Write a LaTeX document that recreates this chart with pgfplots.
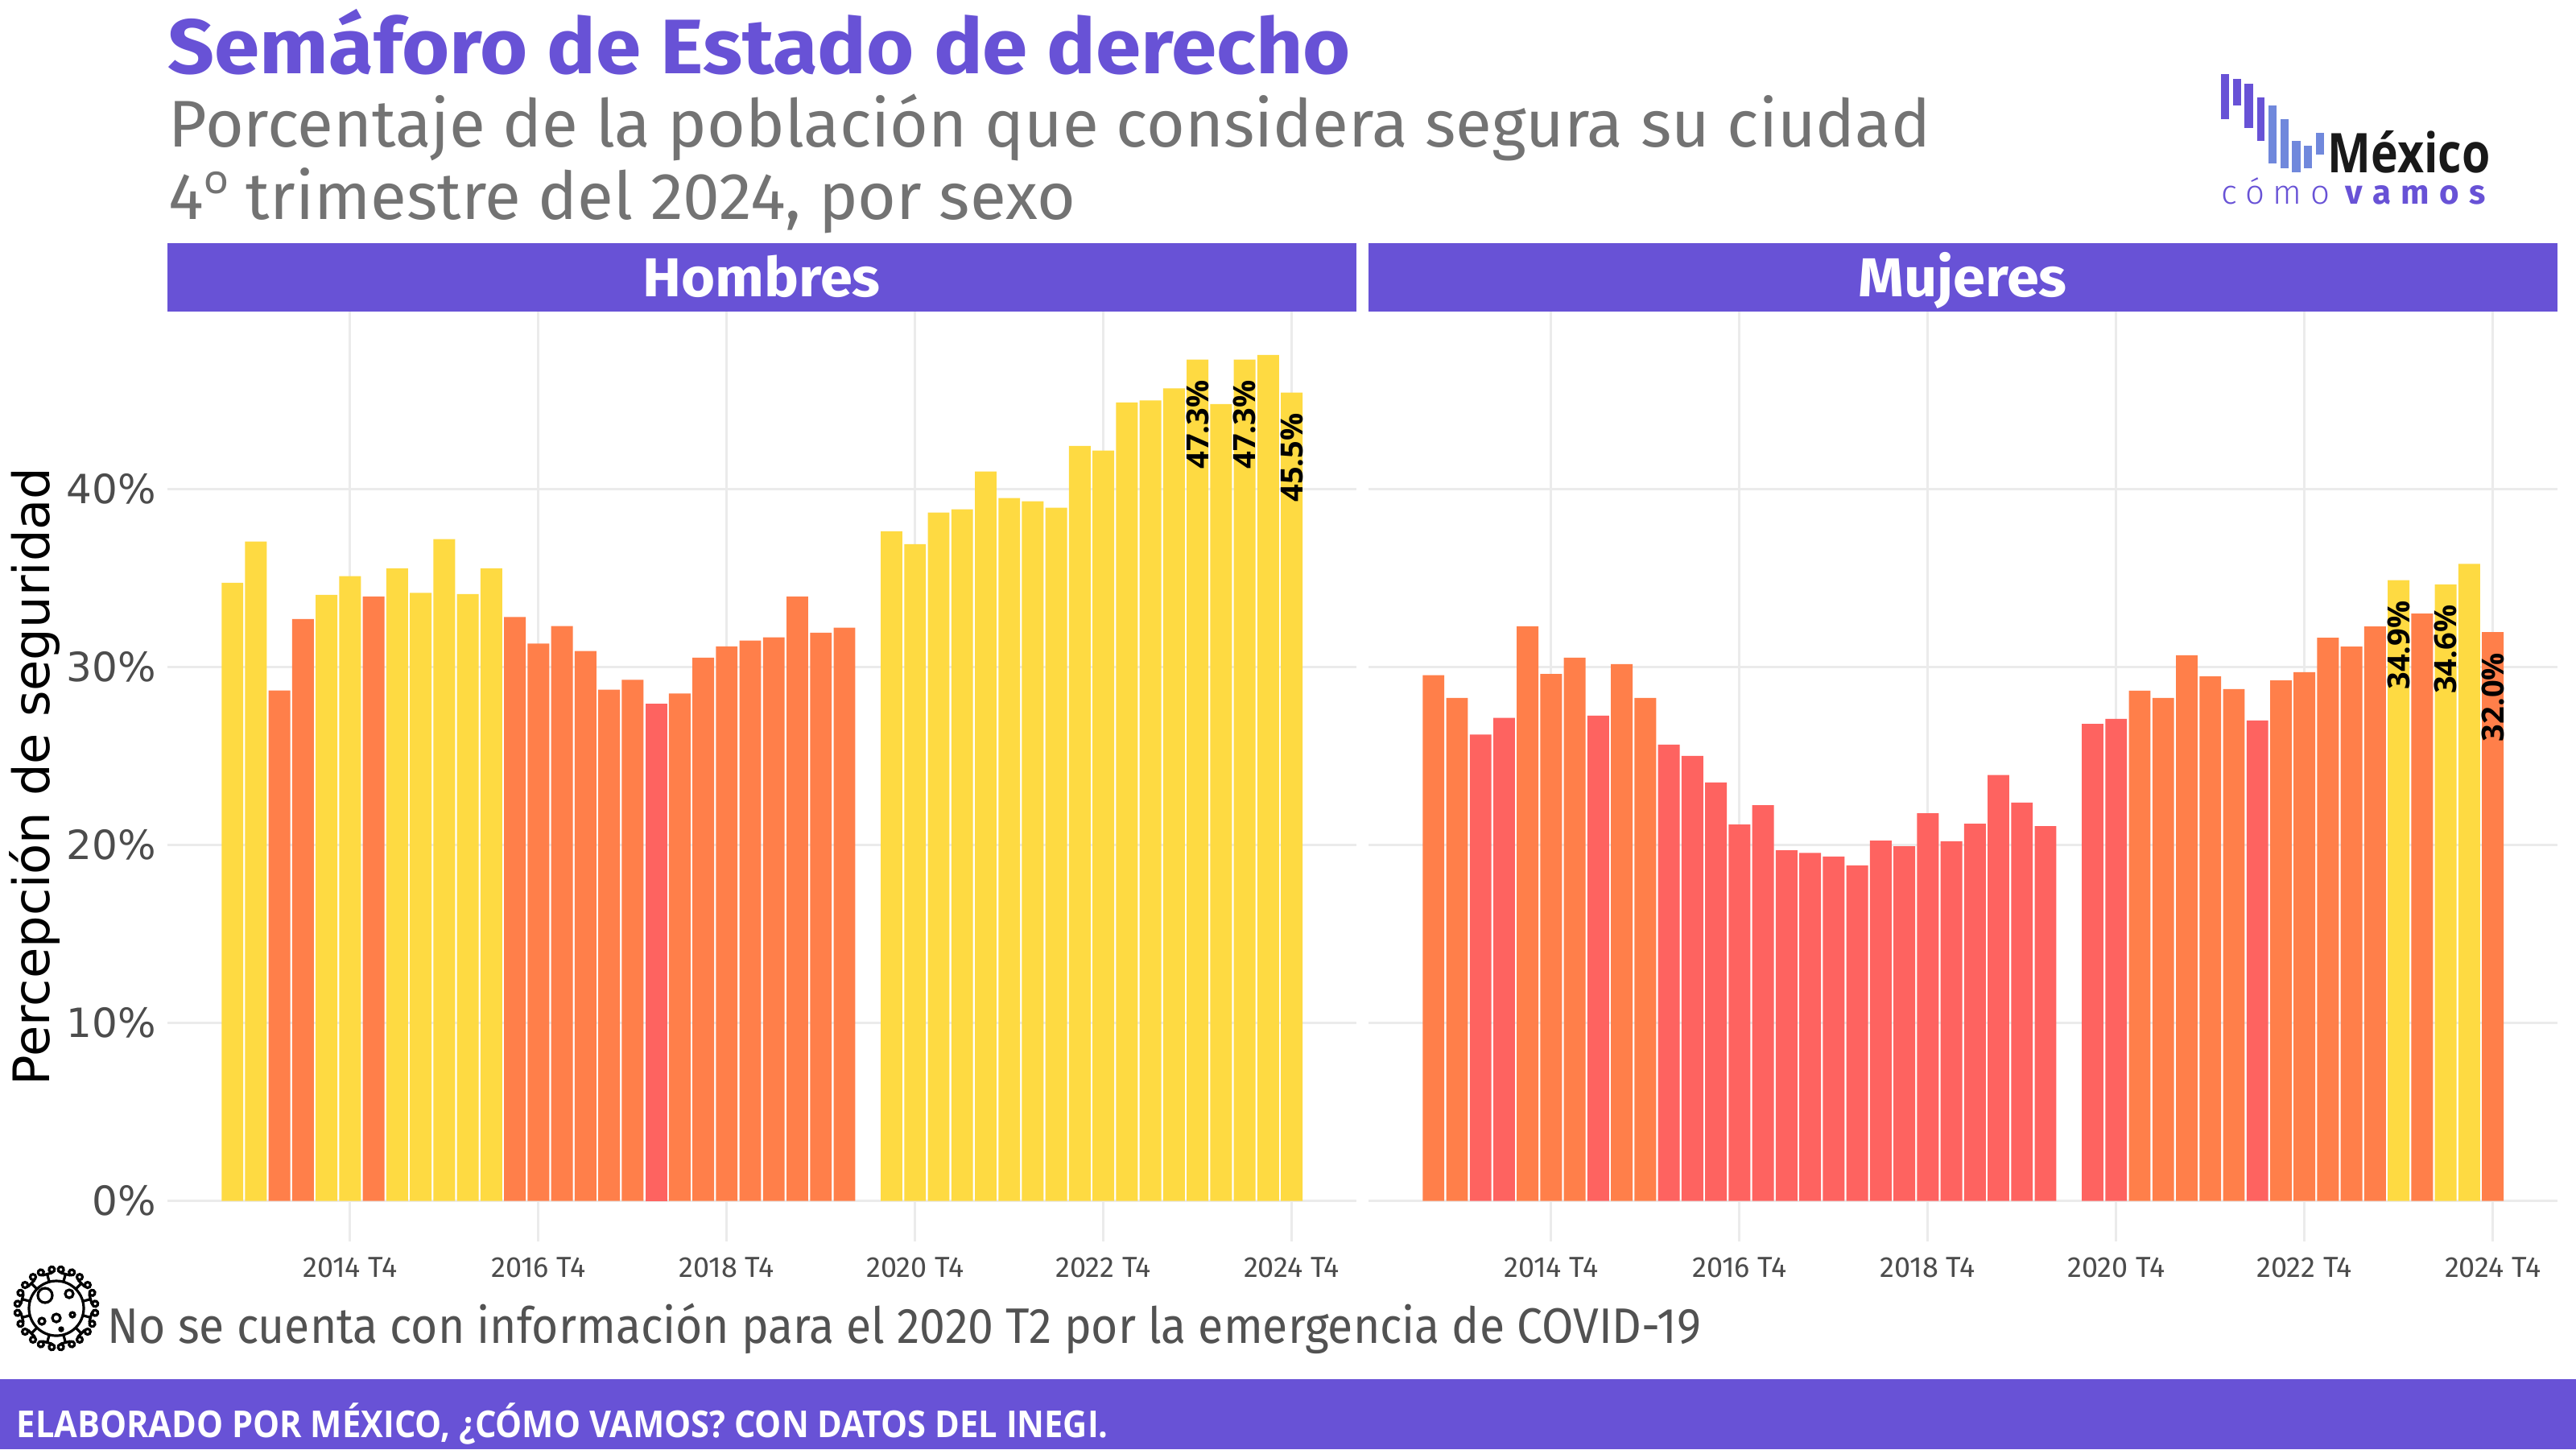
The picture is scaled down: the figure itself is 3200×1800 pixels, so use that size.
\documentclass[border=0pt]{standalone}
\usepackage{fontspec}
\usepackage{pgfplots}
\pgfplotsset{compat=1.18}
\setmainfont{Fira Sans}[UprightFont=* Light,BoldFont=* Bold]
\newfontfamily\titf{Fira Sans}[UprightFont=* Bold,FakeStretch=1.057]
\newfontfamily\subf{Fira Sans}
\newfontfamily\stripf{Fira Sans}[UprightFont=* Bold,FakeStretch=1.06]
\newfontfamily\dejavu{DejaVu Sans}
\newfontfamily\openr{Open Sans}
\newfontfamily\openb{Open Sans}[UprightFont=* Bold]
\newfontfamily\logof{Open Sans}[UprightFont=* Bold,FakeStretch=0.84]
\newfontfamily\openc{Open Sans}[UprightFont=* Bold,FakeStretch=0.905]
\newfontfamily\notef{Fira Sans}[FakeStretch=0.92]
\definecolor{morado}{HTML}{6852D6}
\definecolor{azul}{HTML}{7088DC}
\definecolor{amarillo}{HTML}{FEDA42}
\definecolor{naranja}{HTML}{FF7F4A}
\definecolor{rojo}{HTML}{FE6360}
\definecolor{rejilla}{HTML}{EBEBEB}

\pgfplotsset{panel/.style={
    scale only axis, width=369.25pt, height=276.25pt,
    anchor=south west,
    xmin=-2.76, xmax=47.75, ymin=0, ymax=50,
    xtick={5,13,21,29,37,45},
    xticklabels={2014 T4,2016 T4,2018 T4,2020 T4,2022 T4,2024 T4},
    ytick={0,10,20,30,40},
    grid=major,
    grid style={line width=0.75pt, draw=rejilla},
    axis line style={draw=none},
    xtick pos=bottom, ytick pos=left,
    xtick align=outside, ytick align=inside,
    major tick length=12.5pt,
    x tick style={line width=0.75pt, draw=rejilla},
    y tick style={draw=none},
    xticklabel style={font=\subf\fontsize{9}{9}\selectfont, text=black!70, yshift=-1.5pt},
    yticklabel style={font=\dejavu\fontsize{12.5}{12.5}\selectfont, text=black!70},
  },
  amar/.style={ybar, bar width=0.92, bar shift=0pt, fill=amarillo, draw=none},
  nara/.style={ybar, bar width=0.92, bar shift=0pt, fill=naranja, draw=none},
  roja/.style={ybar, bar width=0.92, bar shift=0pt, fill=rojo, draw=none},
  etiq/.style={draw=none, mark=none, nodes near coords, point meta=explicit symbolic,
    every node near coord/.style={yshift=-6.25pt, rotate=90, anchor=east, inner sep=0pt,
      font=\openb\fontsize{9.5}{9.5}\selectfont, text=black}},
}

\begin{document}
\begin{tikzpicture}[x=0.25pt,y=-0.25pt]
\path[use as bounding box,fill=white] (0,0) rectangle (3200,1800);

% titulos
\node[anchor=base west,inner sep=0pt,text=morado] at (208,91) {\titf\fontsize{24}{24}\selectfont Semáforo de Estado de derecho};
\node[anchor=base west,inner sep=0pt,text=black!55] at (209,182) {\subf\fontsize{20.5}{20.5}\selectfont Porcentaje de la población que considera segura su ciudad};
\node[anchor=base west,inner sep=0pt,text=black!55] at (209,272) {\subf\fontsize{20.5}{20.5}\selectfont 4{\openr º} trimestre del 2024, por sexo};

% franjas de cada panel
\fill[morado] (208,302) rectangle (1685,387);
\fill[morado] (1700,302) rectangle (3177,387);
\node[text=white,anchor=base,inner sep=0pt] at (946,368) {\stripf\fontsize{17}{17}\selectfont Hombres};
\node[text=white,anchor=base,inner sep=0pt] at (2438,368) {\stripf\fontsize{17}{17}\selectfont Mujeres};

\begin{axis}[panel, at={(52pt,-372.875pt)},
    yticklabels={0\%,10\%,20\%,30\%,40\%},
    ylabel={Percepción de seguridad},
    every axis y label/.style={at={(axis description cs:-0.1117,0.477)},rotate=90,anchor=center,
      font=\dejavu\fontsize{15.6}{15.6}\selectfont,text=black}]
\addplot[amar] coordinates {(0,34.74) (1,37.06) (4,34.06) (5,35.11) (7,35.55) (8,34.17) (9,37.19) (10,34.10) (11,35.55)
  (28,37.63) (29,36.91) (30,38.68) (31,38.86) (32,40.99) (33,39.50) (34,39.32) (35,38.95) (36,42.43) (37,42.17)
  (38,44.87) (39,44.98) (40,45.66) (41,47.28) (42,44.78) (43,47.28) (44,47.54) (45,45.42)};
\addplot[nara] coordinates {(2,28.68) (3,32.70) (6,33.97) (12,32.81) (13,31.32) (14,32.30) (15,30.90) (16,28.73) (17,29.28)
  (19,28.51) (20,30.53) (21,31.16) (22,31.49) (23,31.67) (24,33.97) (25,31.93) (26,32.21)};
\addplot[roja] coordinates {(18,27.96)};
\addplot[etiq] coordinates {(41,47.28)[47.3\%] (43,47.28)[47.3\%] (45,45.42)[45.5\%]};
\end{axis}

\begin{axis}[panel, at={(425pt,-372.875pt)}, yticklabels={}]
\addplot[amar] coordinates {(41,34.88) (43,34.65) (44,35.80)};
\addplot[nara] coordinates {(0,29.54) (1,28.27) (4,32.29) (5,29.61) (6,30.53) (8,30.16) (9,28.27)
  (30,28.67) (31,28.27) (32,30.66) (33,29.48) (34,28.76) (36,29.25) (37,29.71) (38,31.65) (39,31.15) (40,32.28) (42,33.00) (45,31.96)};
\addplot[roja] coordinates {(2,26.21) (3,27.14) (7,27.27) (10,25.64) (11,25.01) (12,23.51) (13,21.15) (14,22.24) (15,19.70)
  (16,19.56) (17,19.35) (18,18.85) (19,20.25) (20,19.93) (21,21.78) (22,20.21) (23,21.20) (24,23.93) (25,22.38) (26,21.06)
  (28,26.80) (29,27.09) (35,27.00)};
\addplot[etiq] coordinates {(41,34.88)[34.9\%] (43,34.65)[34.6\%] (45,31.96)[32.0\%]};
\end{axis}

% logo
\foreach \a/\b/\c/\d in {2759/2769/92/148,2774/2784/98/131,2788/2799/104/159,2804/2813/121/175}
  \fill[morado] (\a,\c) rectangle (\b,\d);
\foreach \a/\b/\c/\d in {2818/2828/131/203,2833/2843/148/209,2847/2858/175/214,2862/2872/181/209,2877/2887/165/192}
  \fill[azul] (\a,\c) rectangle (\b,\d);
\node[anchor=base west,inner sep=0pt,text=black!90] at (2891,214) {\logof\fontsize{17}{17}\selectfont México};
\node[anchor=base west,inner sep=0pt,text=morado] at (2759,253) {\fontsize{10.5}{10.5}\selectfont\addfontfeature{LetterSpace=25}cómo};
\node[anchor=base west,inner sep=0pt,text=morado] at (2913,253) {\fontsize{10.5}{10.5}\selectfont\bfseries\addfontfeature{LetterSpace=30}vamos};

% nota con el icono del virus
\begin{scope}[shift={(70,1625)},line width=0.8pt,black]
  \draw (0,0) circle (34);
  \foreach \g in {15,45,...,345}{
    \draw[rotate=\g] (34,0) -- (44,0) (44,-6) -- (44,6);
    \draw[rotate=\g] (48,-7) circle (3.5) (48,7) circle (3.5);
  }
  \draw (-14,-16) circle (9) (16,-18) circle (5) (0,12) circle (5) (20,8) circle (3) (-18,16) circle (4) (6,26) circle (2);
\end{scope}
\node[anchor=base west,inner sep=0pt,text=black!68] at (133,1668) {\notef\fontsize{15.5}{15.5}\selectfont No se cuenta con información para el 2020 T2 por la emergencia de COVID-19};

% pie
\fill[morado] (0,1713) rectangle (3200,1800);
\node[anchor=base west,inner sep=0pt,text=white] at (20,1785) {\openc\fontsize{11.5}{11.5}\selectfont ELABORADO POR MÉXICO, ¿CÓMO VAMOS? CON DATOS DEL INEGI.};
\end{tikzpicture}
\end{document}
